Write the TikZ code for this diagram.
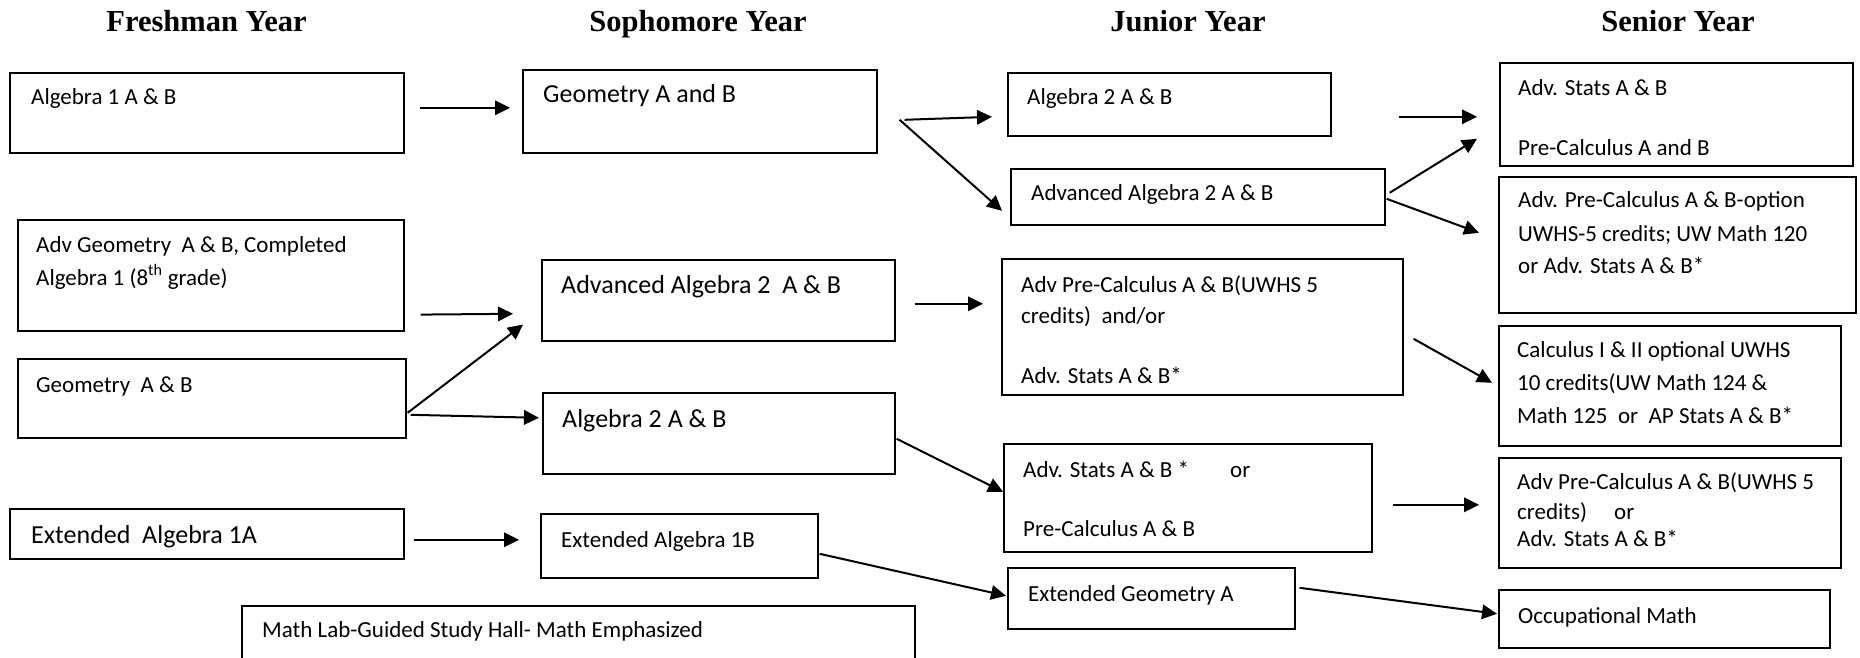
\documentclass[tikz,border=0pt]{standalone}
\usepackage{fontspec}
\usetikzlibrary{arrows.meta,calc}
\newfontfamily\bodyfont{Carlito}
\newfontfamily\headfont{Liberation Serif}
\newcommand{\smallf}{\bodyfont\fontsize{23}{28}\selectfont}
\newcommand{\largef}{\bodyfont\fontsize{26}{31}\selectfont}
\newcommand{\headf}{\headfont\bfseries\fontsize{30.5}{36}\selectfont}
\tikzset{
  box/.style={draw=black, line width=1.6pt, inner sep=0pt, anchor=north west},
  txt/.style={anchor=base west, inner sep=0pt, font=\smallf},
  ltxt/.style={anchor=base west, inner sep=0pt, font=\largef},
  head/.style={anchor=base, inner sep=0pt, font=\headf},
  arr/.style={line width=2pt, -{Triangle[length=15pt,width=14.5pt]}}
}
\begin{document}
\begin{tikzpicture}[x=1pt,y=-1pt]
\useasboundingbox[fill=white] (0,0) rectangle (1860,658);
% headings
\node[head] (h1) at (206.5,32) {Freshman Year};
\node[head] (h2) at (698,32) {Sophomore Year};
\node[head] (h3) at (1188,32) {Junior Year};
\node[head] (h4) at (1678,32) {Senior Year};
% freshman boxes
\node[box, minimum width=394, minimum height=80] (alg1) at (9,72) {};
\node[box, minimum width=386, minimum height=111] (advgeo) at (17,219) {};
\node[box, minimum width=388, minimum height=79] (geo) at (17,358) {};
\node[box, minimum width=394, minimum height=50] (extalga) at (9,508) {};
% sophomore boxes
\node[box, minimum width=354, minimum height=83] (geoAB) at (522,69) {};
\node[box, minimum width=353, minimum height=81] (advalg2) at (541,259) {};
\node[box, minimum width=352, minimum height=81] (alg2) at (542,392) {};
\node[box, minimum width=277, minimum height=64] (extalgb) at (540,513) {};
\node[box, minimum width=673, minimum height=60] (mathlab) at (241,605) {};
% junior boxes
\node[box, minimum width=323, minimum height=63] (alg2j) at (1007,72) {};
\node[box, minimum width=374, minimum height=56] (advalg2j) at (1010,168) {};
\node[box, minimum width=401, minimum height=136] (precalcj) at (1001,258) {};
\node[box, minimum width=368, minimum height=108] (statsj) at (1003,443) {};
\node[box, minimum width=287, minimum height=61] (extgeo) at (1007,567) {};
% senior boxes
\node[box, minimum width=353, minimum height=103] (sr1) at (1499,62) {};
\node[box, minimum width=357, minimum height=136] (sr2) at (1498,176) {};
\node[box, minimum width=342, minimum height=120] (sr3) at (1498,325) {};
\node[box, minimum width=342, minimum height=110] (sr4) at (1498,457) {};
\node[box, minimum width=331, minimum height=58] (occ) at (1498,589) {};
% texts
\node[txt] (t1) at (31,105) {Algebra 1 A \& B};
\node[txt] (t2a) at (36,252) {Adv Geometry\ \ A \& B, Completed};
\node[txt] (t2b) at (36,285) {Algebra 1 (8\textsuperscript{th} grade)};
\node[txt] (t3) at (36,392) {Geometry\ \ A \& B};
\node[ltxt] (t4) at (31,543) {Extended\ \ Algebra 1A};
\node[ltxt] (t5) at (543,103) {Geometry A and B};
\node[ltxt] (t6) at (561,293) {Advanced Algebra 2\ \ A \& B};
\node[ltxt] (t7) at (562,427) {Algebra 2 A \& B};
\node[txt] (t8) at (561,547) {Extended Algebra 1B};
\node[txt] (t9) at (262,637) {Math Lab-Guided Study Hall- Math Emphasized};
\node[txt] (t10) at (1027,105) {Algebra 2 A \& B};
\node[txt] (t11) at (1031,200) {Advanced Algebra 2 A \& B};
\node[txt] (t12a) at (1021,292) {Adv Pre-Calculus A \& B(UWHS 5};
\node[txt] (t12b) at (1021,323) {credits)\ \ and/or};
\node[txt] (t12c) at (1021,383) {Adv. Stats A \& B*};
\node[txt] (t13a) at (1023,477) {Adv. Stats A \& B *};
\node[txt] (t13o) at (1230,477) {or};
\node[txt] (t13b) at (1023,536) {Pre-Calculus A \& B};
\node[txt] (t14) at (1028,601) {Extended Geometry A};
\node[txt] (t15a) at (1518,96) {Adv. Stats A \& B};
\node[txt] (t15b) at (1518,155) {Pre-Calculus A and B};
\node[txt] (t16a) at (1518,207) {Adv. Pre-Calculus A \& B-option};
\node[txt] (t16b) at (1518,241) {UWHS-5 credits; UW Math 120};
\node[txt] (t16c) at (1518,273) {or Adv. Stats A \& B*};
\node[txt] (t17a) at (1517,357) {Calculus I \& II optional UWHS};
\node[txt] (t17b) at (1517,390) {10 credits(UW Math 124 \&};
\node[txt] (t17c) at (1517,423) {Math 125\ \ or\ \ AP Stats A \& B*};
\node[txt] (t18a) at (1517,489) {Adv Pre-Calculus A \& B(UWHS 5};
\node[txt] (t18b) at (1517,519) {credits)};
\node[txt] (t18o) at (1614,519) {or};
\node[txt] (t18c) at (1517,546) {Adv. Stats A \& B*};
\node[txt] (t19) at (1518,623) {Occupational Math};
% arrows
\draw[arr] ($(alg1.east)+(15,-5)$) -- ($(geoAB.west)+(-12,-3.5)$);
\draw[arr] ($(advgeo.south east)+(16,-17)$) -- ($(advalg2.west)+(-28,13.5)$);
\draw[arr] ($(geo.east)+(1,14.5)$) -- ($(advalg2.south west)+(-18,-17)$);
\draw[arr] ($(geo.east)+(4,16.5)$) -- ($(alg2.west)+(-3,-15.5)$);
\draw[arr] ($(extalga.east)+(9,6)$) -- ($(extalgb.west)+(-21,-6)$);
\draw[arr] ($(geoAB.east)+(27,8.5)$) -- ($(alg2j.west)+(-15,12.5)$);
\draw[arr] ($(geoAB.east)+(22,8.5)$) -- ($(advalg2j.west)+(-8,14)$);
\draw[arr] ($(alg2j.east)+(67,12.5)$) -- ($(sr1.west)+(-22,2.5)$);
\draw[arr] ($(advalg2j.east)+(4,-4)$) -- ($(sr1.west)+(-22,24.5)$);
\draw[arr] ($(advalg2j.east)+(1,2)$) -- ($(sr2.west)+(-19,-12)$);
\draw[arr] ($(advalg2.east)+(19,3.5)$) -- ($(precalcj.west)+(-18,-23)$);
\draw[arr] ($(precalcj.east)+(10,12)$) -- ($(sr3.west)+(-6,-3)$);
\draw[arr] ($(alg2.east)+(1,5.5)$) -- ($(statsj.west)+(0,-6)$);
\draw[arr] ($(statsj.east)+(20,7)$) -- ($(sr4.west)+(-19,-8)$);
\draw[arr] ($(extalgb.east)+(1,8)$) -- ($(extgeo.west)+(-1,-2.5)$);
\draw[arr] ($(extgeo.east)+(4,-10.5)$) -- ($(occ.west)+(-1,-5)$);
\end{tikzpicture}
\end{document}
